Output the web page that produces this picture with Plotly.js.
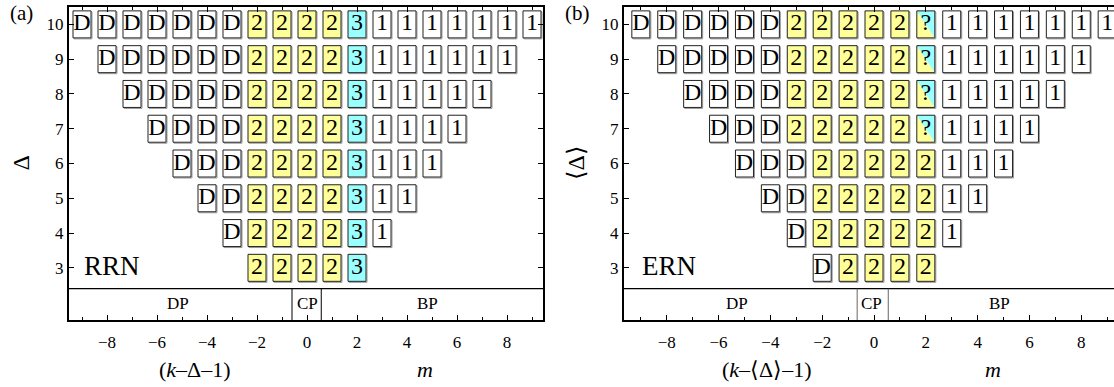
<!DOCTYPE html>
<html><head><meta charset="utf-8">
<script src="https://cdn.plot.ly/plotly-3.0.1.min.js"></script>
<style>html,body{margin:0;padding:0;overflow:hidden;background:#fff}#chart{width:1126px;height:387px}</style>
</head><body><div id="chart"></div>
<script>
// ---- data ----
const deltaValues = [10, 9, 8, 7, 6, 5, 4, 3];
const rrnRows = ["DDDDDDD222231111111", "DDDDDD22223111111", "DDDDD2222311111", "DDDD222231111",
                 "DDD22223111", "DD2222311", "D222231", "22223"];
const ernRows = ["DDDDDD22222?1111111", "DDDDD22222?111111", "DDDD22222?11111", "DDD22222?1111",
                 "DDD22222111", "DD2222211", "D222221", "D2222"];
const xTickVals = [-8, -6, -4, -2, 0, 2, 4, 6, 8];
const yTickVals = [3, 4, 5, 6, 7, 8, 9, 10];
const phaseLabels = ["DP", "CP", "BP"];
const panelLabels = ["(a)", "(b)"];
const networkLabels = ["RRN", "ERN"];
const xTitlesLeft = ["(<i>k</i>–Δ–1)", "(<i>k</i>–⟨Δ⟩–1)"];
const xTitlesRight = ["<i>m</i>", "<i>m</i>"];
const yTitles = ["Δ", "⟨Δ⟩"];

// ---- layout constants ----
const W = 1126, H = 387;
const FONT = "Liberation Serif, Times New Roman, serif";
const panels = [
  {rows: rrnRows, xa: 'x', ya: 'y', dom: [69 / W, 543 / W], range: [-9.52, 9.44], ppu: 25.0,
   cp: [-0.6, 0.57], phaseX: [-5.16, 0.0, 4.83], netX: -7.8, titleX: [-4.48, 4.72], labelPx: 21, yTitlePx: 20, cpColor: '#000'},
  {rows: ernRows, xa: 'x2', ya: 'y2', dom: [624 / W, 1124 / W], range: [-9.65, 9.65], ppu: 25.9,
   cp: [-0.65, 0.55], phaseX: [-5.3, -0.1, 4.83], netX: -7.93, titleX: [-4.13, 4.6], labelPx: 577, yTitlePx: 575, cpColor: '#666'}
];
const yRange = [1.5, 10.5];
const plotTop = 7, plotBottom = 320;
const yppu = (plotBottom - plotTop) / (yRange[1] - yRange[0]);
const bandY = 2.4;
const fills = {D: '#ffffff', '1': '#ffffff', '2': '#ffff99', '3': '#99ffff'};
const YEL = '#ffff99', CYA = '#99ffff';

const shapes = [], annotations = [], traces = [];

panels.forEach((p, pi) => {
  const hw = 9 / p.ppu, hh = 13.5 / yppu;
  const sdx = 1 / p.ppu, sdy = 1 / yppu;
  const tx = [], ty = [], tt = [];
  p.rows.forEach((row, ri) => {
    const d = deltaValues[ri];
    const start = 1 - d;
    row.split('').forEach((ch, j) => {
      const m = start + j;
      const x0 = m - hw, x1 = m + hw, y0 = d - hh, y1 = d + hh;
      // shadow
      shapes.push({type: 'rect', xref: p.xa, yref: p.ya, x0: x0 + sdx, x1: x1 + sdx, y0: y0 - sdy, y1: y1 - sdy,
        line: {color: '#999', width: 1}, fillcolor: 'rgba(0,0,0,0)', layer: 'below'});
      if (ch === '?') {
        shapes.push({type: 'path', xref: p.xa, yref: p.ya, path: `M ${x0},${y1} L ${x0},${y0} L ${x1},${y0} Z`,
          fillcolor: YEL, line: {width: 0}, layer: 'below'});
        shapes.push({type: 'path', xref: p.xa, yref: p.ya, path: `M ${x0},${y1} L ${x1},${y1} L ${x1},${y0} Z`,
          fillcolor: CYA, line: {width: 0}, layer: 'below'});
        shapes.push({type: 'rect', xref: p.xa, yref: p.ya, x0, x1, y0, y1,
          line: {color: '#222', width: 1}, fillcolor: 'rgba(0,0,0,0)', layer: 'below'});
      } else {
        shapes.push({type: 'rect', xref: p.xa, yref: p.ya, x0, x1, y0, y1,
          line: {color: '#222', width: 1}, fillcolor: fills[ch], layer: 'below'});
      }
      tx.push(m); ty.push(d); tt.push(ch);
    });
  });
  traces.push({type: 'scatter', mode: 'text', x: tx, y: ty, text: tt, xaxis: p.xa, yaxis: p.ya,
    textposition: 'middle center', textfont: {family: FONT, size: 24, color: '#000'},
    hoverinfo: 'skip', showlegend: false});

  // phase band
  shapes.push({type: 'line', xref: p.xa + ' domain', yref: p.ya, x0: 0, x1: 1, y0: bandY, y1: bandY,
    line: {color: '#000', width: 1.2}});
  p.cp.forEach(cx => shapes.push({type: 'line', xref: p.xa, yref: p.ya, x0: cx, x1: cx, y0: yRange[0], y1: bandY,
    line: {color: p.cpColor, width: 1}}));
  phaseLabels.forEach((lab, k) => annotations.push({xref: p.xa, yref: p.ya, x: p.phaseX[k], y: 1.97, text: lab,
    showarrow: false, font: {family: FONT, size: 17, color: '#000'}, xanchor: 'center', yanchor: 'middle'}));

  // network label
  annotations.push({xref: p.xa, yref: p.ya, x: p.netX, y: 3.05, text: networkLabels[pi], showarrow: false,
    font: {family: FONT, size: 27, color: '#000'}, xanchor: 'center', yanchor: 'middle'});
  // panel label
  annotations.push({xref: 'paper', yref: 'paper', x: p.labelPx / W, y: (plotBottom - 13) / (plotBottom - plotTop),
    text: panelLabels[pi], showarrow: false, font: {family: FONT, size: 21, color: '#000'},
    xanchor: 'center', yanchor: 'middle'});
  // x titles
  const ty2 = (plotBottom - 369) / (plotBottom - plotTop);
  annotations.push({xref: p.xa, yref: 'paper', x: p.titleX[0], y: ty2, text: xTitlesLeft[pi], showarrow: false,
    font: {family: FONT, size: 22, color: '#000'}, xanchor: 'center', yanchor: 'middle'});
  annotations.push({xref: p.xa, yref: 'paper', x: p.titleX[1], y: ty2, text: xTitlesRight[pi], showarrow: false,
    font: {family: FONT, size: 22, color: '#000'}, xanchor: 'center', yanchor: 'middle'});
  // y title
  annotations.push({xref: 'paper', yref: p.ya, x: p.yTitlePx / W, y: 6, text: yTitles[pi], showarrow: false,
    textangle: -90, font: {family: FONT, size: 24, color: '#000'}, xanchor: 'center', yanchor: 'middle'});
});

function xAxis(p) {
  return {domain: p.dom, range: p.range, tickmode: 'array', tickvals: xTickVals, ticks: 'inside', ticklen: 5,
    tickwidth: 1, tickcolor: '#000', showline: true, linewidth: 2, linecolor: '#000', mirror: 'allticks',
    minor: {tickmode: 'linear', dtick: 1, tick0: 0, ticks: 'inside', ticklen: 3, tickwidth: 1, tickcolor: '#000', showgrid: false},
    showgrid: false, zeroline: false, fixedrange: true, tickfont: {family: FONT, size: 17, color: '#000'},
    ticklabelstandoff: 6};
}
function yAxis(p, anchor) {
  return {domain: [0, 1], range: yRange, anchor, tickmode: 'array', tickvals: yTickVals, ticks: 'inside', ticklen: 5,
    tickwidth: 1, tickcolor: '#000', showline: true, linewidth: 2, linecolor: '#000', mirror: 'ticks',
    showgrid: false, zeroline: false, fixedrange: true, tickfont: {family: FONT, size: 17, color: '#000'}};
}

const layout = {
  width: W, height: H, margin: {l: 0, r: 0, t: plotTop, b: H - plotBottom},
  paper_bgcolor: '#fff', plot_bgcolor: 'rgba(0,0,0,0)', showlegend: false,
  font: {family: FONT, color: '#000'},
  xaxis: Object.assign(xAxis(panels[0]), {anchor: 'y'}),
  yaxis: yAxis(panels[0], 'x'),
  xaxis2: Object.assign(xAxis(panels[1]), {anchor: 'y2'}),
  yaxis2: yAxis(panels[1], 'x2'),
  shapes, annotations
};
Plotly.newPlot('chart', traces, layout, {displayModeBar: false, staticPlot: true});
</script></body></html>
